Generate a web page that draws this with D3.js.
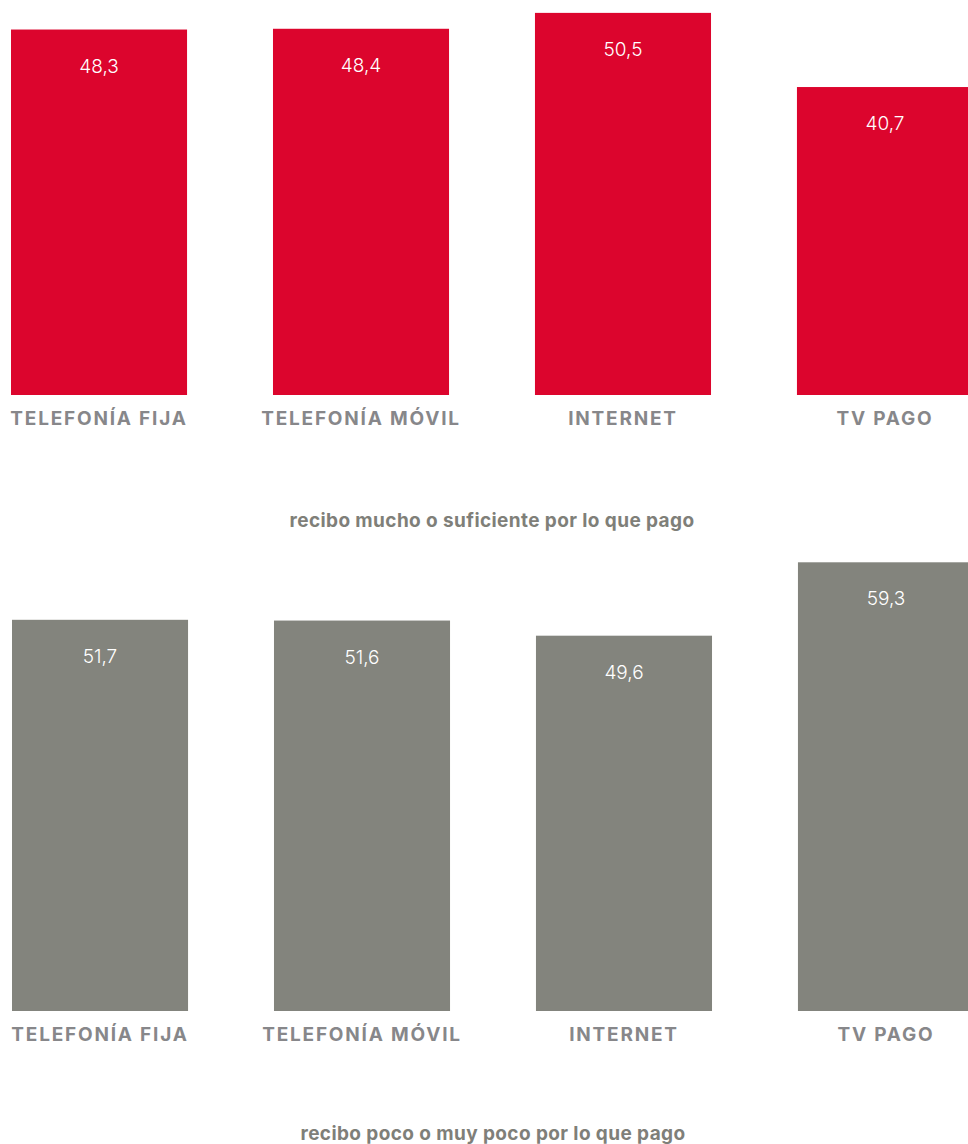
<!DOCTYPE html>
<html>
<head>
<meta charset="utf-8">
<script src="https://d3js.org/d3.v7.min.js"></script>
<style>
  body { margin: 0; background: #fff; }
  svg { display: block; font-family: Inter, "Noto Sans", sans-serif; }
</style>
</head>
<body>
<svg width="968" height="1144"></svg>
<script>
var categories = ["TELEFONÍA FIJA", "TELEFONÍA MÓVIL", "INTERNET", "TV PAGO"];
var mucho = [48.3, 48.4, 50.5, 40.7];
var poco = [51.7, 51.6, 49.6, 59.3];
var captions = ["recibo mucho o suficiente por lo que pago", "recibo poco o muy poco por lo que pago"];

var svg = d3.select("svg");

var x = d3.scaleBand()
    .domain(categories)
    .range([11, 973])
    .paddingInner(0.328)
    .paddingOuter(0);

var h = d3.scaleLinear().domain([0, 60]).range([0, 454]);

var fmt = function(v) { return d3.format(".1f")(v).replace(".", ","); };

function drawChart(values, base, color, caption, capY, dx) {
  var g = svg.append("g").attr("transform", "translate(" + dx + "," + base + ")");
  var data = categories.map(function(c, i) { return {cat: c, v: values[i]}; });

  g.selectAll("rect")
    .data(data)
    .enter().append("rect")
      .attr("x", function(d) { return x(d.cat); })
      .attr("y", function(d) { return -h(d.v); })
      .attr("width", x.bandwidth())
      .attr("height", function(d) { return h(d.v); })
      .attr("fill", color);

  g.selectAll(".val")
    .data(data)
    .enter().append("text")
      .attr("class", "val")
      .attr("x", function(d) { return x(d.cat) + x.bandwidth() / 2; })
      .attr("y", function(d) { return -h(d.v) + 43; })
      .attr("text-anchor", "middle")
      .attr("fill", "#fff")
      .attr("font-size", 19)
      .attr("font-weight", 300)
      .text(function(d) { return fmt(d.v); });

  g.selectAll(".cat")
    .data(data)
    .enter().append("text")
      .attr("class", "cat")
      .attr("x", function(d) { return x(d.cat) + x.bandwidth() / 2; })
      .attr("y", 30)
      .attr("text-anchor", "middle")
      .attr("fill", "#87878a")
      .attr("font-size", 19)
      .attr("font-weight", 700)
      .attr("letter-spacing", 1.8)
      .text(function(d) { return d.cat; });

  svg.append("text")
    .attr("x", 492 + dx)
    .attr("y", capY)
    .attr("text-anchor", "middle")
    .attr("fill", "#7f7f79")
    .attr("font-size", 19)
    .attr("font-weight", 700)
    .attr("letter-spacing", 0.4)
    .text(caption);
}

drawChart(mucho, 395, "#dc052d", captions[0], 527, 0);
drawChart(poco, 1011, "#83847d", captions[1], 1140, 1);
</script>
</body>
</html>
